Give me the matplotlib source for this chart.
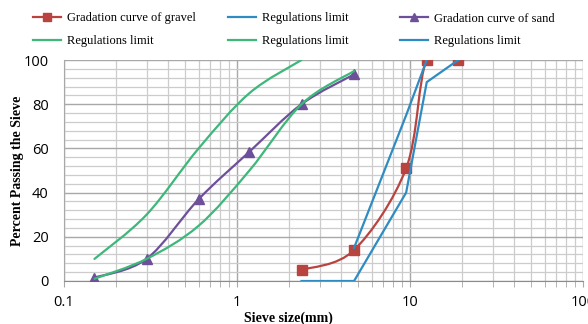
import numpy as np
import matplotlib
matplotlib.use("Agg")
import matplotlib.pyplot as plt
from matplotlib.path import Path
from matplotlib.patches import PathPatch
from matplotlib.lines import Line2D
from matplotlib.ticker import LogLocator, MultipleLocator, NullFormatter

# sieve sizes (mm) and percent passing
gravel_size = [2.36, 4.75, 9.5, 12.5, 19]
gravel_pass = [5, 14, 51, 100, 100]
gravel_low_size = [2.36, 4.75, 9.5, 12.5, 19]
gravel_low_pass = [0, 0, 40, 90, 100]
gravel_up_size = [4.75, 9.5, 12.5]
gravel_up_pass = [15, 75, 100]

sand_size = [0.15, 0.3, 0.6, 1.18, 2.36, 4.75]
sand_pass = [1.5, 10, 37, 58.5, 80, 93.5]
sand_up_size = [0.15, 0.3, 0.6, 1.18, 2.36]
sand_up_pass = [10, 30, 60, 85, 100]
sand_low_size = [0.15, 0.3, 0.6, 1.18, 2.36, 4.75]
sand_low_pass = [1, 10, 25, 50, 80, 95]

RED = "#b8433f"
BLUE = "#2f8cc2"
PURPLE = "#6e4f9a"
GREEN = "#3db77a"

plt.rcParams['font.family'] = ['Open Sans', 'DejaVu Sans']
fig = plt.figure(figsize=(5.88, 3.24), dpi=100)
ax = fig.add_axes([64 / 588, 1 - 281 / 324, (583 - 64) / 588, (281 - 60) / 324])
ax.set_xscale('log')
ax.set_xlim(0.1, 100)
ax.set_ylim(0, 100)


def smooth_path(xs, ys):
    # excel-style smoothed line: cubic bezier through the points, built in display space
    pts = ax.transData.transform(np.column_stack([xs, ys]))
    n = len(pts)
    verts = [pts[0]]
    codes = [Path.MOVETO]
    for i in range(n - 1):
        p0 = pts[max(i - 1, 0)]
        p1 = pts[i]
        p2 = pts[i + 1]
        p3 = pts[min(i + 2, n - 1)]
        verts += [p1 + (p2 - p0) / 6, p2 - (p3 - p1) / 6, p2]
        codes += [Path.CURVE4] * 3
    verts = ax.transData.inverted().transform(np.array(verts))
    return Path(verts, codes)


def draw_curve(xs, ys, color, z, marker=None, ms=7, smooth=True):
    if smooth:
        ax.add_patch(PathPatch(smooth_path(xs, ys), fill=False, edgecolor=color,
                               lw=1.6, zorder=z, capstyle='round'))
    else:
        ax.plot(xs, ys, color=color, lw=1.6, zorder=z)
    if marker:
        ax.plot(xs, ys, linestyle='none', marker=marker, color=color, ms=ms, zorder=z + 0.5)


draw_curve(gravel_size, gravel_pass, RED, 3, marker='s')
draw_curve(gravel_low_size, gravel_low_pass, BLUE, 4, smooth=False)
draw_curve(sand_size, sand_pass, PURPLE, 5, marker='^')
draw_curve(sand_up_size, sand_up_pass, GREEN, 6)
draw_curve(sand_low_size, sand_low_pass, GREEN, 7)
draw_curve(gravel_up_size, gravel_up_pass, BLUE, 8, smooth=False)

# grid
ax.xaxis.set_minor_locator(LogLocator(base=10, subs=np.arange(2, 10), numticks=20))
ax.xaxis.set_minor_formatter(NullFormatter())
ax.set_xticks([0.1, 1, 10, 100])
ax.set_xticklabels(['0.1', '1', '10', '100'])
ax.yaxis.set_major_locator(MultipleLocator(20))
ax.yaxis.set_minor_locator(MultipleLocator(4))
ax.grid(True, which='major', color='#a8a8a8', lw=1.0, zorder=0)
ax.grid(True, which='minor', color='#cccccc', lw=0.9, zorder=0)
ax.set_axisbelow(True)
for side in ['top', 'right']:
    ax.spines[side].set_visible(False)
ax.spines['left'].set_color('#a8a8a8')
ax.spines['bottom'].set_color('#8c8c8c')
ax.tick_params(axis='x', which='both', length=4, color='#a8a8a8', labelsize=10.5, pad=6)
ax.tick_params(axis='y', which='both', length=0, labelsize=10.5, pad=11)

ax.set_xlabel('Sieve size(mm)', family='Liberation Serif', fontweight='bold', fontsize=10)
ax.xaxis.set_label_coords((288 - 64) / (583 - 64), -0.14)
ax.set_ylabel('Percent Passing the Sieve', family='Liberation Serif', fontweight='bold', fontsize=10)
ax.yaxis.set_label_coords(-0.078, 0.5)

# legend, three groups of two rows
def handle(color, marker=None):
    return Line2D([], [], color=color, lw=1.6, marker=marker, ms=6)

groups = [
    (30, [handle(RED, 's'), handle(GREEN)], ['Gradation curve of gravel', 'Regulations limit']),
    (225, [handle(BLUE), handle(GREEN)], ['Regulations limit', 'Regulations limit']),
    (397, [handle(PURPLE, '^'), handle(BLUE)], ['Gradation curve of sand', 'Regulations limit']),
]
for x0, hs, ls in groups:
    fig.legend(hs, ls, loc='upper left', bbox_to_anchor=(x0 / 588, 1 - 10 / 324),
               frameon=False, prop={'family': 'Liberation Serif', 'size': 9},
               handlelength=2.3, handletextpad=0.45, labelspacing=0.85,
               borderaxespad=0, borderpad=0.2)

fig.savefig('out.png', dpi=100)
